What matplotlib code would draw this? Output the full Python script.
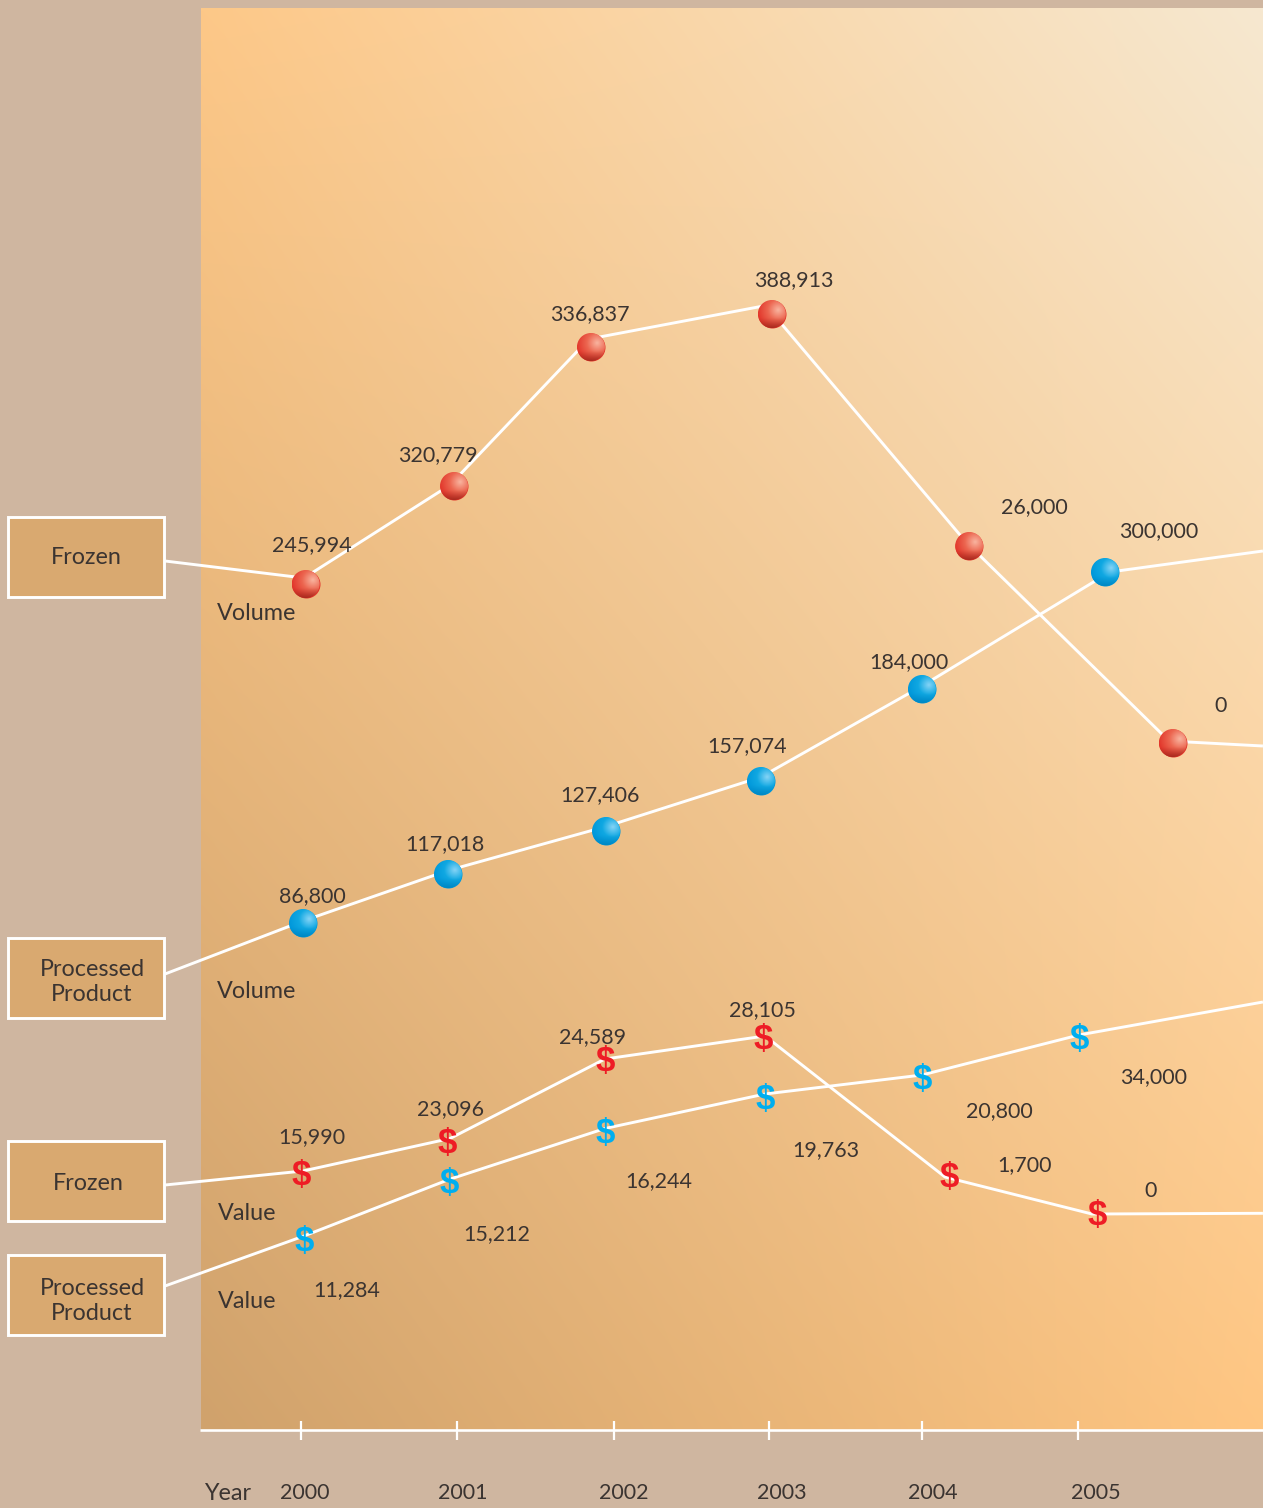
import numpy as np
import matplotlib
matplotlib.use("Agg")
import matplotlib.pyplot as plt
from matplotlib.patches import Ellipse, Rectangle

# ---- data -------------------------------------------------------------
years = [2000, 2001, 2002, 2003, 2004, 2005]
# The source is a hand-laid infographic: marks sit at plotted (not to-scale) heights,
# and the connecting lines have their own vertices close to the marks.
frozen_volume_x = [2000.03, 2000.985, 2001.866, 2003.03, 2004.30, 2005.61]
frozen_volume_h = [846, 944, 1083, 1116, 884, 687]
frozen_volume_line_x = [2000.019, 2000.959, 2001.853, 2002.992, 2004.279, 2005.586, 2006.19]
frozen_volume_line_h = [852, 945, 1091, 1124.5, 888, 689, 684]
frozen_volume_lab = ["245,994", "320,779", "336,837", "388,913", "26,000", "0"]

processed_volume_x = [2000.013, 2000.946, 2001.963, 2002.96, 2003.996, 2005.174]
processed_volume_h = [507, 556, 599, 649, 741, 858]
processed_volume_line_x = [2000.013, 2000.946, 2001.963, 2002.96, 2003.996, 2005.206, 2006.19]
processed_volume_line_h = [509, 559.5, 603.5, 653, 744, 858, 879]
processed_volume_lab = ["86,800", "117,018", "127,406", "157,074", "184,000", "300,000"]

frozen_value_x = [2000.0, 2000.94, 2001.956, 2002.973, 2004.17, 2005.122]
frozen_value_h = [257, 289, 370, 393, 255, 216]
frozen_value_line_x = [2000.013, 2000.959, 2001.956, 2002.986, 2004.144, 2005.09, 2006.19]
frozen_value_line_h = [259, 291.5, 371, 394, 253, 216, 216.7]
frozen_value_lab = ["15,990", "23,096", "24,589", "28,105", "1,700", "0"]

processed_value_x = [2000.019, 2000.952, 2001.956, 2002.986, 2003.996, 2005.006]
processed_value_h = [190, 248, 299, 332, 353, 393]
processed_value_line_x = [2000.019, 2000.952, 2001.956, 2002.986, 2003.996, 2005.006, 2006.19]
processed_value_line_h = [194, 250.5, 301.5, 336, 355, 395, 428]
processed_value_lab = ["11,284", "15,212", "16,244", "19,763", "20,800", "34,000"]

# ---- layout (pixels of the 1263x1508 canvas) ----------------------------
W, H = 1263, 1508
BASE = 1430
PX_YEAR = 155.4
X0 = 301
def dx(p): return 2000 + (p - X0) / PX_YEAR
def dy(p): return BASE - p

BG = "#CFB6A0"
INK = "#3B3431"
WHITE = "#FFFFFF"
FONT = ["Lato", "DejaVu Sans"]
FS = 15.5
FS_WORD = 16.8

fig = plt.figure(figsize=(W / 100, H / 100), dpi=100, facecolor=BG)
ax = fig.add_axes([0, 0, 1, 1])
ax.set_axis_off()

# gradient panel
c_tl, c_tr = np.array([253, 200, 136.]), np.array([246, 232, 208.])
c_bl, c_br = np.array([208, 162, 108.]), np.array([255, 198, 130.])
u = np.linspace(0, 1, 240)[None, :, None]
v = np.linspace(0, 1, 240)[:, None, None]
grad = ((1 - v) * ((1 - u) * c_tl + u * c_tr) + v * ((1 - u) * c_bl + u * c_br)) / 255
ax.imshow(grad, extent=(dx(201), dx(W), dy(BASE), dy(8)), origin="upper",
          aspect="auto", zorder=0, interpolation="bilinear")

# x axis
ax.plot([dx(200), dx(W)], [0, 0], color=WHITE, lw=1.9, zorder=2, solid_capstyle="butt")
tick_px = [301, 457, 614, 769, 922, 1078]
for p in tick_px:
    ax.plot([dx(p), dx(p)], [dy(1421), dy(1440)], color=WHITE, lw=1.6, zorder=2,
            solid_capstyle="butt")

# callout boxes and leaders
boxes = [(517, 597, "Frozen", 86, 557), (938, 1018, "Processed\nProduct", 92, 982),
         (1141, 1221, "Frozen", 88, 1183), (1255, 1335, "Processed\nProduct", 92, 1301)]
for top, bot, txt, tx, ty in boxes:
    ax.add_patch(Rectangle((dx(8), dy(bot)), 156 / PX_YEAR, bot - top, facecolor="#D9A970",
                           edgecolor=WHITE, lw=2.1, zorder=3))
    ax.text(dx(tx), dy(ty), txt, ha="center", va="center", color=INK, fontsize=FS_WORD,
            family=FONT, zorder=4, linespacing=1.25)

leaders_y = [561, 974, 1185, 1286]
series = [(frozen_volume_line_x, frozen_volume_line_h),
          (processed_volume_line_x, processed_volume_line_h),
          (frozen_value_line_x, frozen_value_line_h),
          (processed_value_line_x, processed_value_line_h)]
for (sx, sh), ly in zip(series, leaders_y):
    ax.plot([dx(165)] + sx, [dy(ly)] + sh, color=WHITE, lw=2.1, zorder=3,
            solid_joinstyle="miter", solid_capstyle="butt")

# sphere markers
R = 14
n = 64
g = np.linspace(-1, 1, n)
gx, gy = np.meshgrid(g, g)   # gy: +1 = up

def sphere(edge, mid, high, low):
    edge, mid, high, low = [np.array(matplotlib.colors.to_rgb(c)) for c in (edge, mid, high, low)]
    t = np.clip(np.hypot(gx - 0.45, gy - 0.30) / 1.5, 0, 1)[..., None]
    col = np.where(t < 0.5, high + (mid - high) * t * 2, mid + (edge - mid) * (t - .5) * 2)
    shade = np.clip((-gy - 0.25) / 0.75, 0, 1)[..., None] ** 1.3
    col = col * (1 - shade) + low * shade
    return np.clip(col, 0, 1)

red_img = sphere("#E2362B", "#EC6650", "#F9B5A0", "#A82C20")
blue_img = sphere("#0097DA", "#10A8E2", "#86D4F6", "#0088C4")

def spheres(xs, hs, img, base):
    ax.scatter(xs, hs, s=(2 * R * 0.72) ** 2, color=base, zorder=5, linewidths=0)
    for x, h in zip(xs, hs):
        ext = (x - R / PX_YEAR, x + R / PX_YEAR, h - R, h + R)
        im = ax.imshow(img, extent=ext, origin="lower", aspect="auto", zorder=6,
                       interpolation="bilinear")
        im.set_clip_path(Ellipse((x, h), 2 * R / PX_YEAR, 2 * R, transform=ax.transData))

spheres(frozen_volume_x, frozen_volume_h, red_img, "#E2362B")
spheres(processed_volume_x, processed_volume_h, blue_img, "#0097DA")

# dollar markers
def dollars(xs, hs, col):
    for x, h in zip(xs, hs):
        ax.text(x, h - 2, "$", color=col, fontsize=25, fontweight="bold", ha="center",
                va="center", family=["Liberation Sans Narrow", "Liberation Sans", "DejaVu Sans"],
                zorder=5, parse_math=False)

dollars(frozen_value_x, frozen_value_h, "#EE1C25")
dollars(processed_value_x, processed_value_h, "#00AEEF")

# value labels
def labels(labs, pos, size=FS):
    for s, (px, py) in zip(labs, pos):
        ax.text(dx(px), dy(py), s, ha="center", va="center", color=INK, fontsize=size,
                family=FONT, zorder=7)

labels(frozen_volume_lab, [(312, 545), (438, 455), (590, 314), (794, 280), (1034, 507), (1221, 706)])
labels(processed_volume_lab, [(312, 896), (445, 844), (600, 795), (747, 746), (909, 662), (1159, 531)])
labels(frozen_value_lab, [(312, 1137), (450, 1109), (593, 1037), (762, 1010), (1025, 1165), (1151, 1191)])
labels(processed_value_lab, [(347, 1290), (497, 1234), (659, 1181), (826, 1150), (999, 1111), (1154, 1077)])
labels(["Volume", "Volume", "Value", "Value"], [(257, 613), (257, 992), (247, 1214), (247, 1302)], FS_WORD)
labels(["Year"], [(228, 1493)], FS_WORD)
labels([str(y) for y in years], [(305, 1493), (463, 1493), (624, 1493), (782, 1493), (933, 1493), (1096, 1493)])

ax.set_xlim(dx(0), dx(W))
ax.set_ylim(dy(H), dy(0))
fig.savefig("out.png", dpi=100, facecolor=BG)
